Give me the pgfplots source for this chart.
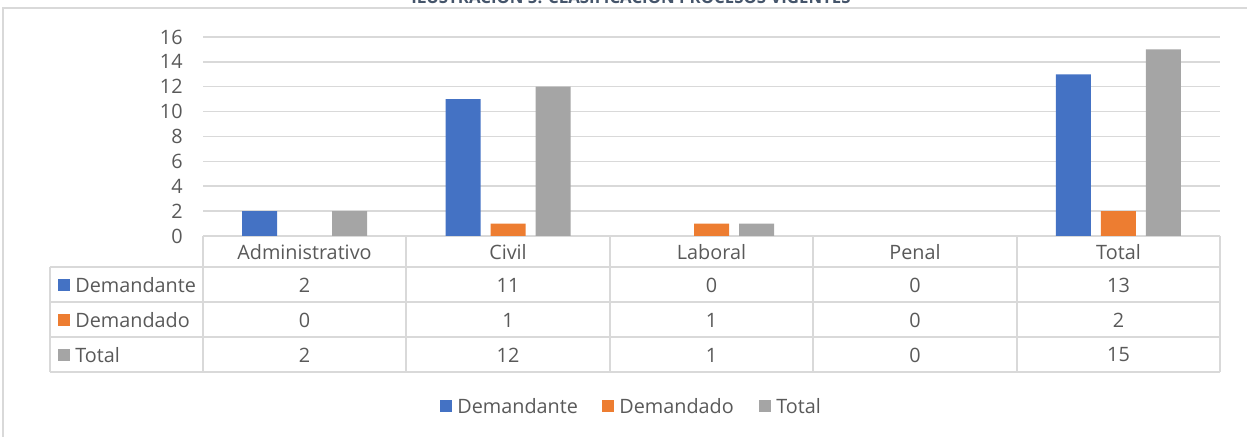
\documentclass[border=0pt]{standalone}
\usepackage{pgfplots}
\pgfplotsset{compat=1.18}
\usepackage{fontspec}
\setmainfont{Open Sans}
\definecolor{cblue}{HTML}{4472C4}
\definecolor{corange}{HTML}{ED7D31}
\definecolor{cgray}{HTML}{A5A5A5}
\definecolor{txt}{HTML}{595959}
\definecolor{gridc}{HTML}{D9D9D9}
\definecolor{ttl}{HTML}{44546A}
\newcommand{\tf}{\fontsize{9.9}{11}\selectfont}
\begin{document}
\begin{tikzpicture}
\begin{scope}[shift={(-101.5pt,118pt)}, x=0.5pt, y=-0.5pt]
\path[use as bounding box] (0,0) rectangle (1247,437);
\begin{scope}
\clip (0,0) rectangle (1247,437);
\draw[gridc, line width=0.75pt] (3,8) rectangle (1270,460);
\node[font=\bfseries\fontsize{8.4}{10}\selectfont, text=ttl, anchor=base, inner sep=0pt] at (631,4) {ILUSTRACIÓN 5. CLASIFICACIÓN PROCESOS VIGENTES};
\end{scope}
\end{scope}
\begin{axis}[at={(0pt,0pt)}, anchor=south west, scale only axis,
  width=508.5pt, height=99.5pt,
  xmin=-0.5, xmax=4.5, ymin=0, ymax=16,
  ytick={0,2,...,16}, xtick=\empty,
  ymajorgrids, grid style={gridc, line width=0.75pt},
  axis line style={draw=none}, major tick length=0pt,
  /pgf/number format/assume math mode=true,
  yticklabel style={font=\tf, text=txt, inner sep=0pt, xshift=-10pt},
  ybar=5pt, bar width=17.5pt,
  every axis plot/.append style={draw=none},
  clip=false]
% zero values (Laboral/Penal etc.) are not drawn, as in the reference
\addplot[fill=cblue] coordinates {(0,2) (1,11) (4,13)};
\addplot[fill=corange] coordinates {(1,1) (2,1) (4,2)};
\addplot[fill=cgray] coordinates {(0,2) (1,12) (2,1) (4,15)};
\end{axis}
\begin{scope}[shift={(-101.5pt,118pt)}, x=0.5pt, y=-0.5pt]
% data table
\begin{scope}[gridc, line width=0.75pt]
\foreach \yy in {267,302,337,372} \draw (50,\yy) -- (1220,\yy);
\foreach \xx in {203,406,610,813,1017,1220} \draw (\xx,236) -- (\xx,372);
\draw (50,267) -- (50,372);
\end{scope}
\begin{scope}[every node/.style={font=\tf, text=txt, inner sep=0pt}]
\foreach \xx/\t in {304.5/Administrativo,508/Civil,711.5/Laboral,915/Penal,1118.5/Total}
  \node at (\xx,252) {\t};
\foreach \xx/\a/\b/\c in {304.5/2/0/2,508/11/1/12,711.5/0/1/1,915/0/0/0,1118.5/13/2/15}{
  \node at (\xx,285) {\a};
  \node at (\xx,320) {\b};
  \node at (\xx,355) {\c};
}
\fill[cblue] (58,279) rectangle (70,291);
\node[anchor=west] at (75,285) {Demandante};
\fill[corange] (58,314) rectangle (70,326);
\node[anchor=west] at (75,320) {Demandado};
\fill[cgray] (58,349) rectangle (70,361);
\node[anchor=west] at (75,355) {Total};
% legend
\fill[cblue] (440,400) rectangle (452,412);
\node[anchor=west] at (457,406) {Demandante};
\fill[corange] (602,400) rectangle (614,412);
\node[anchor=west] at (619,406) {Demandado};
\fill[cgray] (759,400) rectangle (771,412);
\node[anchor=west] at (776,406) {Total};
\end{scope}
\end{scope}
\end{tikzpicture}
\end{document}
